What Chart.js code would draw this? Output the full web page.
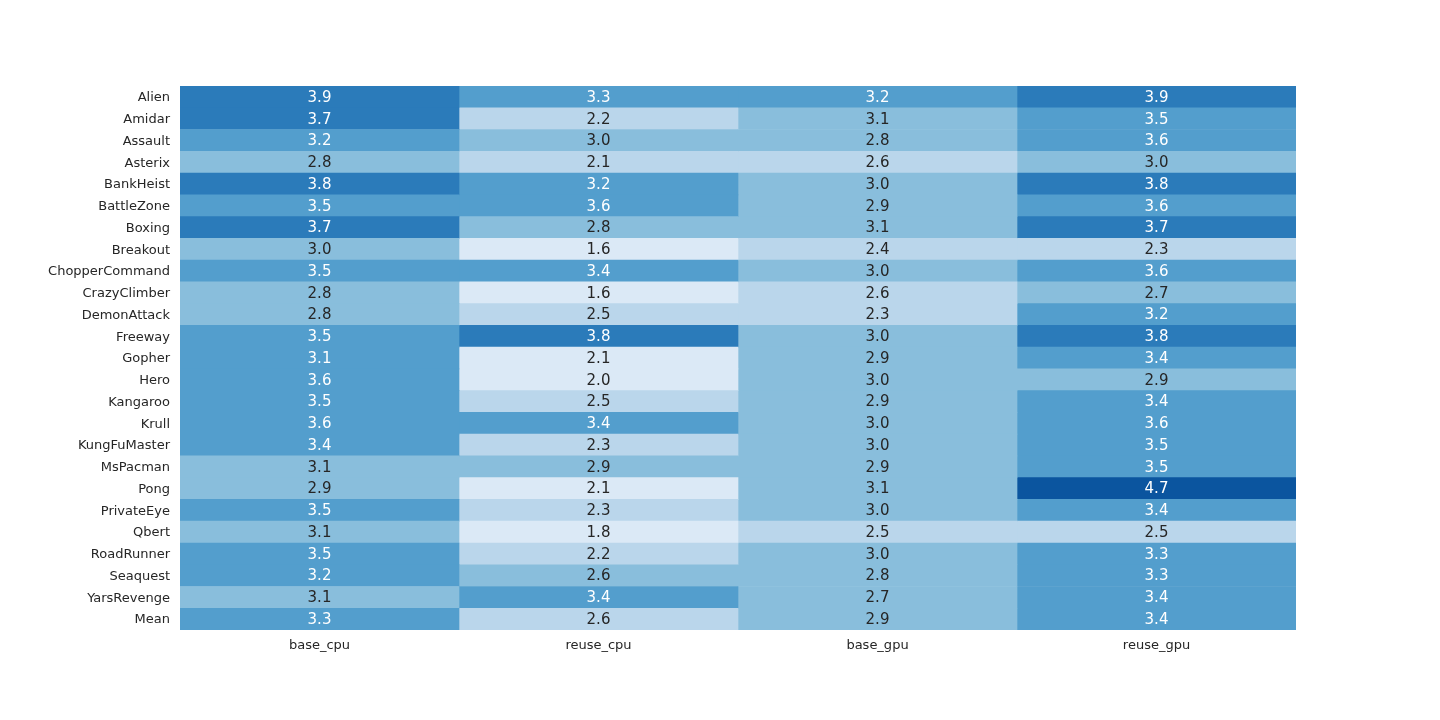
<!DOCTYPE html>
<html>
<head>
<meta charset="utf-8">
<script src="https://cdn.jsdelivr.net/npm/chart.js@4/dist/chart.umd.min.js"></script>
<style>
  html, body { margin: 0; padding: 0; background: #ffffff; }
  #wrap { width: 1440px; height: 720px; }
</style>
</head>
<body>
<div id="wrap"><canvas id="heatmap" width="1440" height="720"></canvas></div>
<script>
const games = ['Alien', 'Amidar', 'Assault', 'Asterix', 'BankHeist', 'BattleZone', 'Boxing',
  'Breakout', 'ChopperCommand', 'CrazyClimber', 'DemonAttack', 'Freeway', 'Gopher', 'Hero',
  'Kangaroo', 'Krull', 'KungFuMaster', 'MsPacman', 'Pong', 'PrivateEye', 'Qbert',
  'RoadRunner', 'Seaquest', 'YarsRevenge', 'Mean'];

const columns = ['base_cpu', 'reuse_cpu', 'base_gpu', 'reuse_gpu'];

const baseCpu = [3.90, 3.70, 3.20, 2.80, 3.80, 3.50, 3.70, 3.00, 3.50, 2.80, 2.80, 3.50, 3.14,
  3.60, 3.50, 3.60, 3.40, 3.10, 2.90, 3.50, 3.10, 3.50, 3.20, 3.10, 3.30];
const reuseCpu = [3.30, 2.20, 3.00, 2.12, 3.20, 3.60, 2.80, 1.58, 3.40, 1.62, 2.50, 3.80, 2.08,
  2.00, 2.50, 3.40, 2.30, 2.90, 2.09, 2.30, 1.80, 2.20, 2.63, 3.40, 2.60];
const baseGpu = [3.20, 3.10, 2.80, 2.60, 3.00, 2.90, 3.10, 2.40, 3.00, 2.60, 2.30, 3.00, 2.90,
  3.00, 2.90, 3.00, 3.00, 2.90, 3.10, 3.00, 2.50, 3.00, 2.80, 2.70, 2.90];
const reuseGpu = [3.90, 3.50, 3.60, 3.00, 3.80, 3.60, 3.70, 2.30, 3.60, 2.70, 3.20, 3.80, 3.40,
  2.90, 3.40, 3.60, 3.50, 3.50, 4.68, 3.40, 2.50, 3.30, 3.30, 3.40, 3.40];

const series = [baseCpu, reuseCpu, baseGpu, reuseGpu];

// seaborn "Blues" 6-colour palette
const blues = ['#dbe9f6', '#bad6eb', '#89bedc', '#539ecd', '#2b7bba', '#0b559f'];

const all = series.flat();
const vmin = Math.min(...all);
const vmax = Math.max(...all);

function binOf(v) {
  let b = Math.floor((v - vmin) / (vmax - vmin) * blues.length);
  return Math.max(0, Math.min(blues.length - 1, b));
}

const datasets = series.map((vals, c) => ({
  label: columns[c],
  data: vals.map(() => [c, c + 1]),
  values: vals,
  backgroundColor: vals.map((v) => blues[binOf(v)]),
  borderWidth: 0,
  borderSkipped: false,
  grouped: false,
  barPercentage: 1.0,
  categoryPercentage: 1.0,
}));

const annotate = {
  id: 'annotate',
  afterDatasetsDraw(chart) {
    const ctx = chart.ctx;
    ctx.save();
    ctx.font = '15px "DejaVu Sans"';
    ctx.textAlign = 'center';
    ctx.textBaseline = 'middle';
    chart.data.datasets.forEach((ds, i) => {
      chart.getDatasetMeta(i).data.forEach((el, j) => {
        const v = ds.values[j];
        const p = el.getCenterPoint();
        ctx.fillStyle = binOf(v) >= 3 ? '#ffffff' : '#262626';
        ctx.fillText(v.toFixed(1), p.x, p.y + 1);
      });
    });
    ctx.restore();
  },
};

new Chart(document.getElementById('heatmap').getContext('2d'), {
  type: 'bar',
  data: { labels: games, datasets: datasets },
  plugins: [annotate],
  options: {
    indexAxis: 'y',
    responsive: false,
    animation: false,
    layout: { padding: { left: 0, top: 86, right: 144, bottom: 0 } },
    plugins: {
      legend: { display: false },
      tooltip: { enabled: false },
    },
    scales: {
      x: {
        type: 'linear',
        min: 0,
        max: 4,
        grid: { display: false, drawTicks: false },
        border: { display: false },
        afterBuildTicks: (scale) => {
          scale.ticks = columns.map((_, i) => ({ value: i + 0.5 }));
        },
        afterFit: (scale) => { scale.height = 90; },
        ticks: {
          padding: 8,
          maxRotation: 0,
          autoSkip: false,
          color: '#262626',
          font: { family: 'DejaVu Sans', size: 13 },
          callback: (value) => columns[Math.floor(value)],
        },
      },
      y: {
        type: 'category',
        offset: true,
        grid: { display: false, drawTicks: false },
        border: { display: false },
        afterFit: (scale) => { scale.width = 180; },
        ticks: {
          padding: 10,
          labelOffset: 1,
          autoSkip: false,
          color: '#262626',
          font: { family: 'DejaVu Sans', size: 13 },
        },
      },
    },
  },
});
</script>
</body>
</html>
